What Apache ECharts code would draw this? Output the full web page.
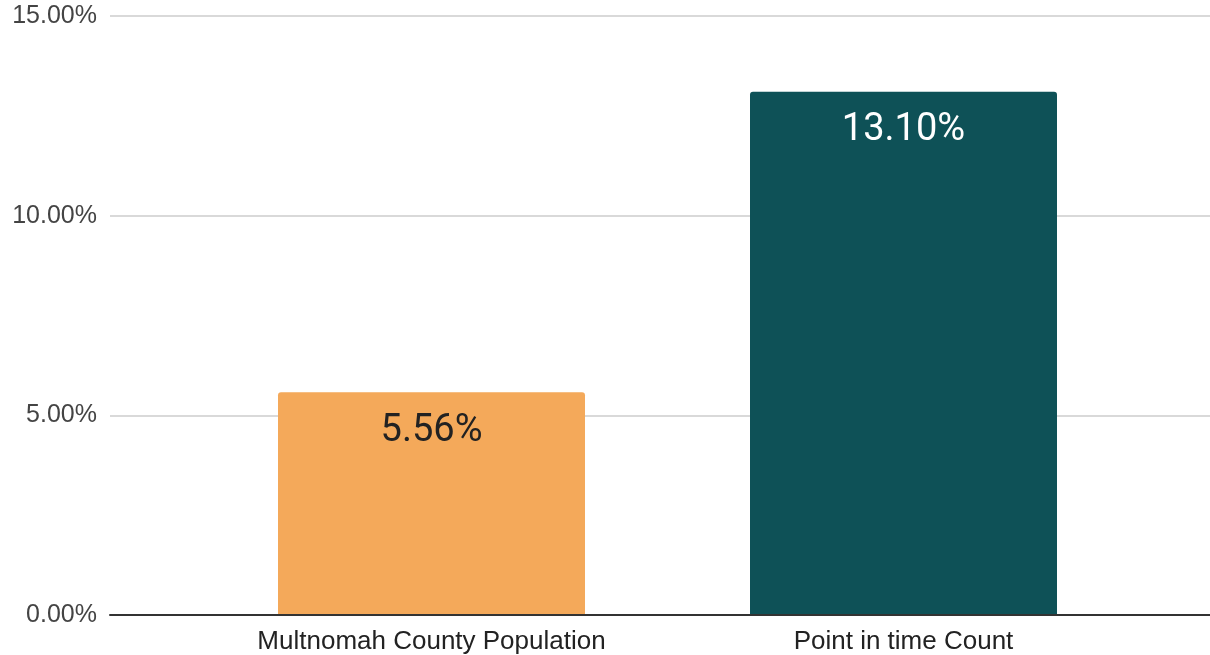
<!DOCTYPE html>
<html>
<head>
<meta charset="utf-8">
<script src="https://cdn.jsdelivr.net/npm/echarts@6/dist/echarts.min.js"></script>
<style>
html,body{margin:0;padding:0;background:#fff;}
#chart{width:1210px;height:655px;}
</style>
</head>
<body>
<div id="chart"></div>
<script>
const categories = ['Multnomah County Population', 'Point in time Count'];
const values = [5.56, 13.10];
const barColors = ['#F4A95A', '#0E5157'];
const labelColors = ['#222222', '#FFFFFF'];
const yTicks = [0, 5, 10, 15];

const chart = echarts.init(document.getElementById('chart'));
const TOP = 16, BOTTOM = 40;
chart.setOption({
  animation: false,
  grid: [
    {left: 110, right: 0, top: TOP, bottom: BOTTOM},
    {left: 195.5, width: 944, top: TOP, bottom: BOTTOM}
  ],
  xAxis: [
    {gridIndex: 0, type: 'category', data: [''],
      axisLine: {show: true, lineStyle: {color: '#333', width: 2}},
      axisTick: {show: false}, axisLabel: {show: false}},
    {gridIndex: 1, type: 'category', data: categories,
      axisLine: {show: false}, axisTick: {show: false},
      axisLabel: {fontSize: 26, color: '#222', fontFamily: 'Liberation Sans, Arial, sans-serif', margin: 15}}
  ],
  yAxis: [
    {gridIndex: 0, type: 'value', min: yTicks[0], max: yTicks[yTicks.length - 1], interval: 5,
      axisLine: {show: false}, axisTick: {show: false},
      splitLine: {lineStyle: {color: '#CCCCCC', width: 1.5}},
      axisLabel: {fontSize: 25, color: '#444', fontFamily: 'Liberation Sans, Arial, sans-serif', margin: 13,
        padding: [4, 0, 0, 0],
        formatter: v => v.toFixed(2) + '%'}},
    {gridIndex: 1, type: 'value', min: 0, max: 15, show: false, splitLine: {show: false}}
  ],
  series: [{
    type: 'bar',
    xAxisIndex: 1, yAxisIndex: 1,
    barWidth: 307,
    z: 3,
    data: values.map((v, i) => ({
      value: v,
      itemStyle: {color: barColors[i], borderRadius: [3, 3, 0, 0]},
      label: {color: labelColors[i]}
    })),
    label: {
      show: true, position: 'insideTop', distance: 20,
      fontSize: 38, fontFamily: 'Roboto, sans-serif',
      formatter: p => p.value.toFixed(2) + '%'
    }
  }]
});
</script>
</body>
</html>
